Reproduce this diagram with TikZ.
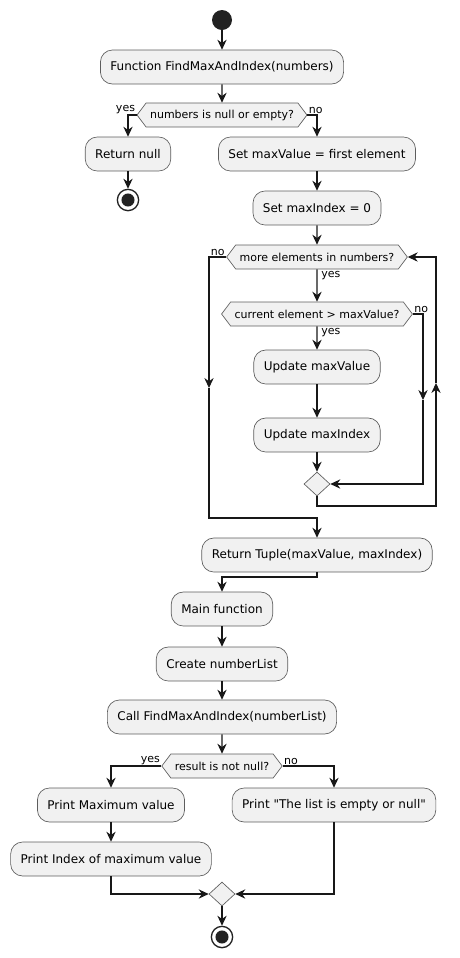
\documentclass[tikz,border=0pt]{standalone}
\usepackage{fontspec}
\setmainfont{DejaVu Sans}[Ligatures=TeXOff]
\usetikzlibrary{arrows.meta,shapes.geometric,shapes.symbols}
\definecolor{umlfill}{HTML}{F1F1F1}
\definecolor{umlline}{HTML}{181818}
\definecolor{umldot}{HTML}{222222}

\begin{document}
\begin{tikzpicture}
[x=0.75pt,y=-0.75pt,
  flow/.style={-{Stealth[length=7.5pt,width=7pt,inset=2.5pt]},line width=0.8pt,draw=umlline},%
  actDecorate/.style={shape=rectangle,rounded corners=9pt,draw=umlline!70,line width=0.5pt,
    fill=umlfill,minimum height=25.5pt,inner xsep=7.5pt,font=\fontsize{9}{11}\selectfont},%
  decDecorate/.style={shape=signal,signal to=west and east,signal pointer angle=106,
    draw=umlline!70,line width=0.5pt,fill=umlfill,minimum height=18pt,inner xsep=3pt,
    inner ysep=0pt,font=\fontsize{8.25}{10}\selectfont},%
  mergeDecorate/.style={shape=diamond,draw=umlline!70,line width=0.5pt,fill=umlfill,
    minimum width=19.5pt,minimum height=18pt,inner sep=0pt},%
  startDecorate/.style={shape=circle,fill=umldot,minimum size=15pt,inner sep=0pt},%
  stopDecorate/.style={shape=circle,draw=umldot,line width=1pt,fill=white,minimum size=16pt,
    inner sep=0pt,path picture={\fill[umldot] (path picture bounding box.center) circle (4.9pt);}},%
  lblDecorate/.style={font=\fontsize{8.25}{10}\selectfont,inner sep=1pt}]
\useasboundingbox (0,0) rectangle (460,958);
%% start and stop
\node (start) at (222,20) [startDecorate] {};
\node (stop1) at (128,200) [stopDecorate] {};
\node (stop2) at (222,937) [stopDecorate] {};
%% actions
\foreach \nodename/\x/\y/\txt in {
  func/222/67/{Function FindMaxAndIndex(numbers)},
  retnull/128/154/{Return null},
  setval/317/154/{Set maxValue = first element},
  setidx/317/208/{Set maxIndex = 0},
  updval/317/367/{Update maxValue},
  updidx/317/435/{Update maxIndex},
  rettuple/317/555/{Return Tuple(maxValue, maxIndex)},
  mainfn/222/609/{Main function},
  create/222/664/{Create numberList},
  call/222/717/{Call FindMaxAndIndex(numberList)},
  printmax/111/805/{Print Maximum value},
  printidx/111/859/{Print Index of maximum value},
  printempty/334/805/{Print "The list is empty or null"}}
{
  \node (\nodename) at (\x,\y) [actDecorate] {\txt};
}
%% decisions
\foreach \nodename/\x/\y/\txt in {
  isempty/222/115/{numbers is null or empty?},
  more/317/257/{more elements in numbers?},
  greater/317/314/{current element > maxValue?},
  notnull/222/766/{result is not null?}}
{
  \node (\nodename) at (\x,\y) [decDecorate] {\txt};
}
%% merges
\node (merge1) at (317,484) [mergeDecorate] {};
\node (merge2) at (222,894) [mergeDecorate] {};
%% helper points
\coordinate (skip) at (423,400);
\coordinate (backlow) at (436,506);
\coordinate (back) at (436,383);
\coordinate (exitmid) at (209,388);
\coordinate (exitlow) at (209,518);
\coordinate (mainjoin) at (222,577);
%% straight edges
\path
\foreach \startnode/\endnode in {
  start/func, func/isempty, retnull/stop1, setval/setidx, setidx/more,
  more/greater, greater/updval, updval/updidx, updidx/merge1,
  mainfn/create, create/call, call/notnull, printmax/printidx, merge2/stop2}
{
  (\startnode) edge[flow] (\endnode)
};
%% branches
\draw[flow] (isempty.west) -| (retnull.north);
\draw[flow] (isempty.east) -| (setval.north);
\draw[flow] (greater.east) -| (skip);
\draw[flow] (skip) |- (merge1.east);
\draw[flow] (merge1.south) |- (backlow) -- (back);
\draw[flow] (back) |- (more.east);
\draw[flow] (more.west) -| (exitmid);
\draw[flow] (exitmid) -- (exitlow) -| (rettuple.north);
\draw[flow] (rettuple.south) |- (mainjoin) -- (mainfn.north);
\draw[flow] (notnull.west) -| (printmax.north);
\draw[flow] (notnull.east) -| (printempty.north);
\draw[flow] (printidx.south) |- (merge2.west);
\draw[flow] (printempty.south) |- (merge2.east);
%% labels
\node[lblDecorate,anchor=south east] at (isempty.west) {yes};
\node[lblDecorate,anchor=south west] at (isempty.east) {no};
\node[lblDecorate,anchor=south east] at (more.west) {no};
\node[lblDecorate,anchor=north west,xshift=2pt] at (more.south) {yes};
\node[lblDecorate,anchor=south west] at (greater.east) {no};
\node[lblDecorate,anchor=north west,xshift=2pt] at (greater.south) {yes};
\node[lblDecorate,anchor=south east] at (notnull.west) {yes};
\node[lblDecorate,anchor=south west] at (notnull.east) {no};
\end{tikzpicture}
\end{document}
